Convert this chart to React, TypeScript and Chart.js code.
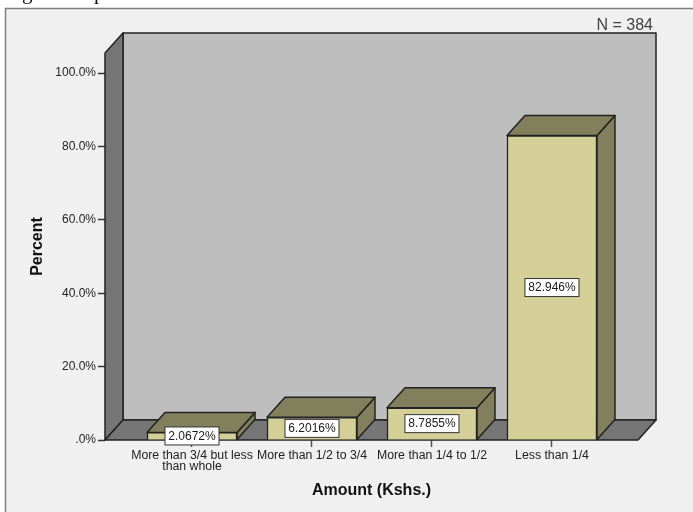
import { useEffect, useRef } from "react";
import { Chart, registerables } from "chart.js";

Chart.register(...registerables);

const categories = [
  ["More than 3/4 but less", "than whole"],
  ["More than 1/2 to 3/4"],
  ["More than 1/4 to 1/2"],
  ["Less than 1/4"],
];
const percents = [2.0672, 6.2016, 8.7855, 82.946];
const valueLabels = ["2.0672%", "6.2016%", "8.7855%", "82.946%"];
const categoryPositions = [1, 2, 3, 4];
const percentTicks = [0, 20, 40, 60, 80, 100];

const DEPTH_X = 18;
const DEPTH_Y = 20;
const EDGE = "#222222";

function face(ctx: CanvasRenderingContext2D, pts: number[][], fill: string) {
  ctx.beginPath();
  pts.forEach(([x, y], i) => (i ? ctx.lineTo(x, y) : ctx.moveTo(x, y)));
  ctx.closePath();
  ctx.fillStyle = fill;
  ctx.fill();
  ctx.lineWidth = 1.5;
  ctx.strokeStyle = EDGE;
  ctx.lineJoin = "round";
  ctx.stroke();
}

// Side wall, back wall and floor of the 3-D box, then the top and side of each bar.
const box3d = {
  id: "box3d",
  beforeDatasetsDraw(chart: any) {
    const { ctx, chartArea: a } = chart;
    const dx = DEPTH_X;
    const dy = DEPTH_Y;
    ctx.save();
    face(ctx, [[a.left + dx, a.top - dy], [a.right + dx, a.top - dy], [a.right + dx, a.bottom - dy], [a.left + dx, a.bottom - dy]], "#bebebe");
    face(ctx, [[a.left, a.top], [a.left + dx, a.top - dy], [a.left + dx, a.bottom - dy], [a.left, a.bottom]], "#767676");
    face(ctx, [[a.left, a.bottom], [a.left + dx, a.bottom - dy], [a.right + dx, a.bottom - dy], [a.right, a.bottom]], "#767676");
    chart.getDatasetMeta(0).data.forEach((bar: any) => {
      const l = bar.x - bar.width / 2;
      const r = bar.x + bar.width / 2;
      face(ctx, [[r, bar.y], [r + dx, bar.y - dy], [r + dx, bar.base - dy], [r, bar.base]], "#82805c");
      face(ctx, [[l, bar.y], [l + dx, bar.y - dy], [r + dx, bar.y - dy], [r, bar.y]], "#82805c");
    });
    ctx.restore();
  },
  afterDatasetsDraw(chart: any) {
    const { ctx } = chart;
    ctx.save();
    ctx.font = '12px "Liberation Sans"';
    ctx.textAlign = "center";
    ctx.textBaseline = "middle";
    chart.getDatasetMeta(0).data.forEach((bar: any, i: number) => {
      const cy = (bar.y + bar.base) / 2;
      ctx.fillStyle = "#ffffff";
      ctx.strokeStyle = "#333333";
      ctx.lineWidth = 1;
      ctx.fillRect(bar.x - 27, cy - 9, 54, 18);
      ctx.strokeRect(bar.x - 27, cy - 9, 54, 18);
      ctx.fillStyle = "#1a1a1a";
      ctx.fillText(valueLabels[i], bar.x, cy + 0.5);
    });
    ctx.fillStyle = "#444444";
    ctx.font = '16px "Liberation Sans"';
    ctx.textAlign = "right";
    ctx.fillText("N = 384", 653, 26);
    ctx.restore();
  },
};

// Panel behind the whole chart, with the caption line running off the top edge.
const panel = {
  id: "panel",
  beforeDraw(chart: any) {
    const { ctx } = chart;
    ctx.save();
    ctx.fillStyle = "#111111";
    ctx.font = '21px "Liberation Serif"';
    ctx.textBaseline = "alphabetic";
    ctx.fillText("g", 22, -1);
    ctx.fillText("p", 94, -1);
    ctx.fillStyle = "#f0f0f0";
    ctx.fillRect(6, 9, 687, 503);
    ctx.strokeStyle = "#7f7f7f";
    ctx.lineWidth = 1.5;
    ctx.beginPath();
    ctx.moveTo(5.5, 512);
    ctx.lineTo(5.5, 8.5);
    ctx.lineTo(693, 8.5);
    ctx.stroke();
    ctx.restore();
  },
};

export default function App() {
  const ref = useRef<HTMLCanvasElement>(null);
  useEffect(() => {
    const chart = new Chart(ref.current!, {
      type: "bar",
      data: {
        datasets: [
          {
            data: categoryPositions.map((x, i) => ({ x, y: percents[i] })),
            backgroundColor: "#d3cf97",
            borderColor: EDGE,
            borderWidth: 1.5,
            barThickness: 90,
          },
        ],
      },
      plugins: [panel, box3d],
      options: {
        animation: false,
        responsive: false,
        layout: { padding: { top: 53, right: 55, left: 0, bottom: 0 } },
        plugins: { legend: { display: false }, tooltip: { enabled: false } },
        scales: {
          x: {
            type: "linear",
            offset: false,
            min: 0.275,
            max: 4.717,
            grid: {
              display: true,
              offset: false,
              drawOnChartArea: false,
              drawTicks: true,
              tickLength: 7,
              tickColor: "#555555",
              tickWidth: 1.5,
            },
            border: { display: false },
            afterBuildTicks: (s: any) => {
              s.ticks = categoryPositions.map((value) => ({ value }));
            },
            afterFit: (s: any) => {
              s.height = 72;
            },
            ticks: {
              autoSkip: false,
              maxRotation: 0,
              minRotation: 0,
              padding: 4,
              color: "#222222",
              font: { family: "Liberation Sans", size: 12.3, lineHeight: 0.82 },
              callback: (v: any) => categories[Number(v) - 1],
            },
            title: {
              display: true,
              text: "Amount (Kshs.)",
              color: "#111111",
              font: { family: "Liberation Sans", size: 16, weight: "bold" },
              padding: { top: 0, bottom: 12 },
            },
          },
          y: {
            min: 0,
            max: 105.45,
            grid: {
              display: true,
              drawOnChartArea: false,
              drawTicks: true,
              tickLength: 7,
              tickColor: "#333333",
              tickWidth: 1.5,
            },
            border: { display: false },
            afterBuildTicks: (s: any) => {
              s.ticks = percentTicks.map((value) => ({ value }));
            },
            afterFit: (s: any) => {
              s.width = 105;
            },
            ticks: {
              padding: 2,
              color: "#222222",
              font: { family: "Liberation Sans", size: 12 },
              callback: (v: any) => (v === 0 ? ".0%" : `${Number(v).toFixed(1)}%`),
            },
            title: {
              display: true,
              text: "Percent",
              color: "#111111",
              font: { family: "Liberation Sans", size: 16, weight: "bold" },
              padding: { top: 28, bottom: 0 },
            },
          },
        },
      },
    } as any);
    return () => chart.destroy();
  }, []);
  return (
    <canvas
      ref={ref}
      width={693}
      height={512}
      style={{ position: "absolute", left: 0, top: 0, width: 693, height: 512 }}
    />
  );
}
